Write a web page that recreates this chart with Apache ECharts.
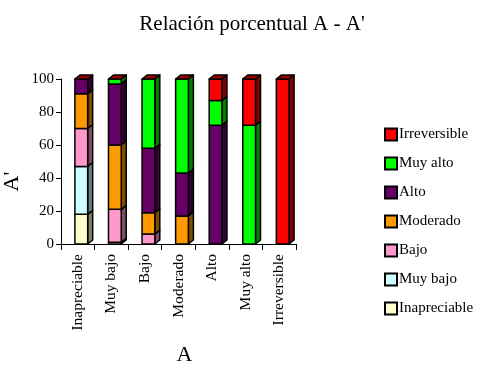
<!DOCTYPE html>
<html>
<head>
<meta charset="utf-8">
<script src="https://cdn.jsdelivr.net/npm/echarts@6/dist/echarts.min.js"></script>
<style>
  html, body { margin: 0; padding: 0; background: #fff; }
  #chart { width: 488px; height: 370px; }
</style>
</head>
<body>
<div id="chart"></div>
<script>
const categories = ['Inapreciable', 'Muy bajo', 'Bajo', 'Moderado', 'Alto', 'Muy alto', 'Irreversible'];
const inapreciable = [18, 0, 0, 0, 0, 0, 0];
const muyBajo      = [29, 1, 0, 0, 0, 0, 0];
const bajo         = [23, 20, 6, 0, 0, 0, 0];
const moderado     = [21, 39, 13, 17, 0, 0, 0];
const alto         = [9, 37, 39, 26, 72, 0, 0];
const muyAlto      = [0, 3, 42, 57, 15, 72, 0];
const irreversible = [0, 0, 0, 0, 13, 28, 100];
const yTicks = [0, 20, 40, 60, 80, 100];

(function() {
  const font = 'Liberation Serif';
  const stacks = [
    { name: 'Inapreciable', data: inapreciable, color: '#ffffcc' },
    { name: 'Muy bajo', data: muyBajo, color: '#ccffff' },
    { name: 'Bajo', data: bajo, color: '#ff99cc' },
    { name: 'Moderado', data: moderado, color: '#ff9900' },
    { name: 'Alto', data: alto, color: '#660066' },
    { name: 'Muy alto', data: muyAlto, color: '#00ff00' },
    { name: 'Irreversible', data: irreversible, color: '#ff0000' }
  ];

  // darker shade for the side faces
  function shade(hex, f) {
    const n = parseInt(hex.slice(1), 16);
    const r = Math.round(((n >> 16) & 255) * f);
    const g = Math.round(((n >> 8) & 255) * f);
    const b = Math.round((n & 255) * f);
    return 'rgb(' + r + ',' + g + ',' + b + ')';
  }

  const dx = 5, dy = 4;
  const last = stacks.length - 1;
  const running = categories.map(() => 0);

  const series = stacks.map((s, si) => {
    const rows = s.data.map((v, i) => {
      const row = [i, running[i], v];
      running[i] += v;
      return row;
    });
    return {
      name: s.name,
      type: 'custom',
      itemStyle: { color: s.color },
      data: rows,
      renderItem: function(params, api) {
        const idx = api.value(0);
        const base = api.value(1);
        const val = api.value(2);
        const band = api.size([1, 0])[0];
        const w = band * 0.38;
        const pb = api.coord([idx, base]);
        const pt = api.coord([idx, base + val]);
        const x0 = pb[0] - w / 2 + 3.5;
        const x1 = x0 + w;
        const yb = pb[1], yt = pt[1];
        const line = { stroke: '#000', lineWidth: 1.5, lineJoin: 'round' };
        const children = [];
        if (val > 0) {
          children.push({
            type: 'polygon',
            shape: { points: [[x1, yb], [x1 + dx, yb - dy], [x1 + dx, yt - dy], [x1, yt]] },
            style: Object.assign({ fill: shade(s.color, 0.5) }, line)
          });
          children.push({
            type: 'rect',
            shape: { x: x0, y: yt, width: w, height: yb - yt },
            style: Object.assign({ fill: s.color }, line)
          });
        }
        if (si === last) {
          children.push({
            type: 'polygon',
            shape: { points: [[x0, yt], [x0 + dx, yt - dy], [x1 + dx, yt - dy], [x1, yt]] },
            style: Object.assign({ fill: '#990000' }, line)
          });
        }
        return { type: 'group', children: children };
      }
    };
  });

  const chart = echarts.init(document.getElementById('chart'));

  const option = {
    animation: false,
    backgroundColor: '#fff',
    title: {
      text: "Relación porcentual A - A'",
      left: 247,
      textAlign: 'center',
      top: 9,
      textStyle: { fontFamily: font, fontSize: 21, fontWeight: 'normal', color: '#000' }
    },
    legend: {
      orient: 'vertical',
      left: 379,
      top: 122,
      itemWidth: 12,
      itemHeight: 12,
      itemGap: 14,
      icon: 'rect',
      data: stacks.map(s => s.name).reverse(),
      itemStyle: { borderColor: '#000', borderWidth: 2 },
      textStyle: { fontFamily: font, fontSize: 15, color: '#000', padding: [0, 0, 0, -3] }
    },
    grid: {
      left: 59,
      right: 192,
      top: 79,
      bottom: 126
    },
    xAxis: {
      type: 'category',
      data: categories,
      boundaryGap: true,
      name: 'A',
      nameLocation: 'middle',
      nameGap: 100,
      nameTextStyle: { fontFamily: font, fontSize: 22, color: '#000', padding: [0, 0, 0, 12] },
      axisLine: { lineStyle: { color: '#000', width: 1 } },
      axisTick: { show: true, length: 6, lineStyle: { color: '#000' } },
      axisLabel: {
        rotate: 90,
        interval: 0,
        margin: 10,
        fontFamily: font,
        fontSize: 15.5,
        color: '#000'
      },
      splitLine: { show: false }
    },
    yAxis: {
      type: 'value',
      min: yTicks[0],
      max: yTicks[yTicks.length - 1],
      interval: yTicks[1] - yTicks[0],
      name: "A'",
      nameLocation: 'middle',
      nameGap: 38,
      nameTextStyle: { fontFamily: font, fontSize: 22, color: '#000', padding: [0, 40, 0, 0] },
      axisLine: { show: true, lineStyle: { color: '#000', width: 1 } },
      axisTick: { show: true, length: 5, lineStyle: { color: '#000' } },
      axisLabel: { fontFamily: font, fontSize: 15, color: '#000', margin: 7 },
      splitLine: { show: false }
    },
    series: series
  };

  chart.setOption(option);
  window.addEventListener('resize', () => chart.resize());
})();
</script>
</body>
</html>
